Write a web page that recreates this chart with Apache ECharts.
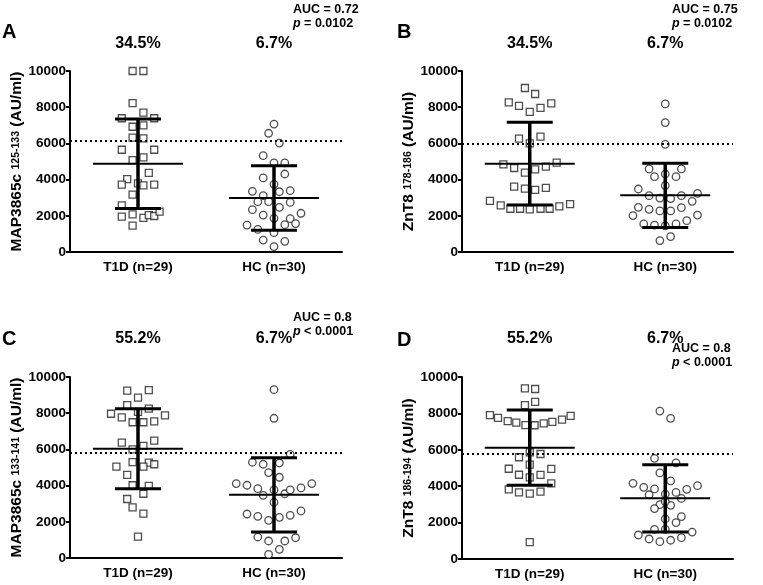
<!DOCTYPE html>
<html>
<head>
<meta charset="utf-8">
<script src="https://cdn.jsdelivr.net/npm/echarts@6/dist/echarts.min.js"></script>
<style>
html,body{margin:0;padding:0;background:#fff;}
#chart{width:763px;height:585px;}
</style>
</head>
<body>
<div id="chart"></div>
<script>
// groups on the x axis
var groups = ['T1D (n=29)', 'HC (n=30)'];

// percent above cut-off, per panel
var pctA = ['34.5%', '6.7%'];
var pctB = ['34.5%', '6.7%'];
var pctC = ['55.2%', '6.7%'];
var pctD = ['55.2%', '6.7%'];

var yTitles = [
	['MAP3865c', '125-133'],
	['ZnT8', '178-186'],
	['MAP3865c', '133-141'],
	['ZnT8', '186-194']
];
var panelLetters = ['A', 'B', 'C', 'D'];
var aucLines = ['AUC = 0.72', 'AUC = 0.75', 'AUC = 0.8', 'AUC = 0.8'];
var pLines = ['= 0.0102', '= 0.0102', '< 0.0001', '< 0.0001'];
var cutoffs = [6150, 6000, 5840, 5800];

// mean and SD per group [T1D, HC]
var meanA = [4880, 2985], sdA = [2470, 1785];
var meanB = [4880, 3130], sdB = [2285, 1770];
var meanC = [6040, 3490], sdC = [2210, 2053];
var meanD = [6118, 3333], sdD = [2069, 1850];

// AU/ml values, with swarm offsets (in symbol steps)
var aT1D = [10000, 10000, 8230, 7700, 7390, 7390, 6920, 7000, 6320, 6280, 5650, 5650, 5080, 5230, 4370, 4030, 3720, 3790, 3680, 3720, 3170, 2580, 2080, 1950, 1880, 2040, 1990, 2230, 1460];
var aT1DJit = [-1, 1, -1, 1, -3, 3, -1, 1, -1, 1, -3, 3, -1, 1, 2, -2, -3, 0, 1, 3, -1, -3, -1, -3, 1, 2, 3, 4, -1];
var aHC = [7070, 6560, 6020, 5320, 4920, 4920, 4090, 4310, 3740, 3350, 3110, 3330, 3390, 2780, 2780, 2740, 2470, 2340, 2040, 2140, 1860, 1840, 1510, 1570, 1490, 1250, 1070, 660, 590, 300];
var aHCJit = [0, -1, 1, -2, 0, 2, -2, 2, 0, -4, -2, 1, 3, -3, -1, 3, 1, -4, -2, 5, 0, 3, 2, 4, -5, -3, 0, -2, 2, 0];

var bT1D = [9060, 8730, 8270, 8070, 8210, 7960, 7740, 6260, 6370, 6000, 4840, 4640, 4380, 4570, 4720, 4940, 3610, 3500, 3430, 3540, 2820, 2580, 2390, 2390, 2360, 2390, 2390, 2520, 2650];
var bT1DJit = [-0.9, 1, -3.9, -2, 4, 2, 0, -2, 2, 0, -4.9, -2.9, -0.9, 1, 3, 5, -2.9, -0.9, 1, 3, -7.4, -5.4, -3.6, -1.8, 0, 2, 3.7, 5.5, 7.5];
var bHC = [8180, 7150, 5950, 4590, 4590, 4160, 4310, 4160, 3670, 3480, 3110, 2980, 2950, 3110, 3240, 2800, 2470, 2360, 2270, 2270, 2450, 2010, 2040, 1550, 1490, 1440, 1550, 1730, 630, 850];
var bHCJit = [0, 0, 0, -3, 3, -2, 0, 2, 0, -5, -3, -1, 1, 3, 6, 5, -5, -3, -1, 1, 3, -6, 6, -4, -2, 0, 2, 4, -1, 1];

var cT1D = [9250, 9280, 8860, 8450, 8250, 7970, 7770, 8070, 7880, 7500, 7500, 7550, 6370, 6480, 6000, 6190, 5300, 5270, 5180, 5050, 5050, 4590, 4020, 3980, 3550, 3260, 2800, 2450, 1180];
var cT1DJit = [-2, 2, 0, -2, 2, -5, -3, 0, 5, -1, 1, 3, -3, 3, -1, 1, -1, 2, 3, -4, 1, -2, -1, 2, 1, -2, -1, 1, 0];
var cHC = [9300, 7720, 5730, 5290, 5180, 5250, 4720, 4460, 4110, 4020, 3830, 3460, 3760, 3550, 3760, 3870, 4110, 3080, 2430, 2300, 2080, 2250, 2360, 2600, 1160, 940, 940, 1120, 480, 200];
var cHCJit = [0, 0, 3, -4, -2, 1, -1, 1, -7, -5, -3, -2, 0, 2, 3, 5, 7, 0, -5, -3, -1, 1, 3, 5, -3, -1, 2, 4, 1, -1];

var dT1D = [9380, 9340, 8460, 8630, 7910, 7750, 7580, 7490, 7360, 7350, 7450, 7530, 7660, 7860, 5860, 5770, 5590, 5180, 4960, 4950, 4630, 4490, 4620, 4160, 3830, 3660, 3590, 3700, 930];
var dT1DJit = [-0.9, 1, -0.9, 1, -7.4, -5.9, -4.1, -2.5, -0.8, 0.9, 2.6, 4.2, 6, 7.6, 0, 2, -2, 0, -3.9, 4, -2, 0, 2, 4, -3.9, -2, 0, 2, 0];
var dHC = [8130, 7730, 5530, 5280, 4730, 4290, 4160, 3940, 3850, 3530, 3570, 3660, 3830, 4030, 3330, 2990, 2950, 2770, 2200, 2330, 2000, 1630, 1630, 1320, 1100, 950, 1030, 1170, 1480, 3150];
var dHCJit = [-1, 1, -2, 2, -1, 1, -6, -4, -2, -3, 0, 2, 4, 6, 3, -1, 1, -2, 0, 3, 2, -2, 0, -5, -3, -1, 1, 3, 5, 0];

var FONT = '"Liberation Sans", Arial, sans-serif';
var JIT = 0.0397; // one symbol step, in group units

// panel layout: grid box, letter / auc text positions, percent row gap
var layout = [
	{left: 70, top: 71, width: 272, height: 181, letter: [2, 33], auc: [293, 10], pctGap: 19},
	{left: 462, top: 71, width: 271, height: 181, letter: [397, 33], auc: [672, 10], pctGap: 19},
	{left: 70, top: 377, width: 272, height: 181, letter: [2, 340], auc: [293, 318], pctGap: 30},
	{left: 462, top: 377, width: 271, height: 182, letter: [397, 341], auc: [672, 349], pctGap: 30}
];

var panels = [
	{pct: pctA, mean: meanA, sd: sdA, pts: [[aT1D, aT1DJit], [aHC, aHCJit]]},
	{pct: pctB, mean: meanB, sd: sdB, pts: [[bT1D, bT1DJit], [bHC, bHCJit]]},
	{pct: pctC, mean: meanC, sd: sdC, pts: [[cT1D, cT1DJit], [cHC, cHCJit]]},
	{pct: pctD, mean: meanD, sd: sdD, pts: [[dT1D, dT1DJit], [dHC, dHCJit]]}
];

function renderErrBar(params, api) {
	var x = api.value(0), m = api.value(1), s = api.value(2);
	var c = api.coord([x, m]);
	var hi = api.coord([x, m + s]);
	var lo = api.coord([x, m - s]);
	var st = function (w) { return {stroke: '#000', lineWidth: w}; };
	return {
		type: 'group',
		children: [
			{type: 'line', shape: {x1: c[0] - 45, y1: c[1], x2: c[0] + 45, y2: c[1]}, style: st(2)},
			{type: 'line', shape: {x1: c[0], y1: hi[1], x2: c[0], y2: lo[1]}, style: st(3.5)},
			{type: 'line', shape: {x1: c[0] - 23, y1: hi[1], x2: c[0] + 23, y2: hi[1]}, style: st(3)},
			{type: 'line', shape: {x1: c[0] - 23, y1: lo[1], x2: c[0] + 23, y2: lo[1]}, style: st(3)}
		]
	};
}

var grids = [], xAxes = [], yAxes = [], series = [], graphics = [];

for (var i = 0; i < panels.length; i++) {
	var p = panels[i], L = layout[i];
	grids.push({left: L.left, top: L.top, width: L.width, height: L.height});
	// visible group axis
	xAxes.push({
		gridIndex: i, type: 'category', data: groups, boundaryGap: true,
		axisLine: {lineStyle: {color: '#000', width: 2}},
		axisTick: {alignWithLabel: true, length: 5, lineStyle: {width: 2, color: '#000'}},
		axisLabel: {color: '#000', fontWeight: 'bold', fontSize: 13.5, fontFamily: FONT, margin: 8}
	});
	// percent row above
	xAxes.push({
		gridIndex: i, type: 'category', data: p.pct, position: 'top', boundaryGap: true,
		axisLine: {show: false}, axisTick: {show: false},
		axisLabel: {color: '#000', fontWeight: 'bold', fontSize: 16, fontFamily: FONT, margin: L.pctGap}
	});
	// hidden numeric axis for the swarm
	xAxes.push({gridIndex: i, type: 'value', min: -0.5, max: 1.5, show: false});
	yAxes.push({
		gridIndex: i, type: 'value', min: 0, max: 10000, interval: 2000,
		name: '{b|' + yTitles[i][0] + ' }{s|' + yTitles[i][1] + '}{b| (AU/ml)}',
		nameLocation: 'middle', nameGap: 41,
		nameTextStyle: {
			rich: {
				b: {fontWeight: 'bold', fontSize: 15.5, fontFamily: FONT, color: '#000'},
				s: {fontWeight: 'bold', fontSize: 10.5, fontFamily: FONT, color: '#000'}
			}
		},
		splitLine: {show: false},
		axisLine: {show: true, onZero: false, lineStyle: {color: '#000', width: 2}},
		axisTick: {show: true, length: 4, lineStyle: {width: 2, color: '#000'}},
		axisLabel: {
			color: '#000', fontWeight: 'bold', fontSize: 13.5, fontFamily: FONT, margin: 4,
			formatter: function (v) { return String(v); }
		}
	});

	for (var g = 0; g < 2; g++) {
		var vals = p.pts[g][0], jit = p.pts[g][1];
		var d = [];
		for (var k = 0; k < vals.length; k++) d.push([g + jit[k] * JIT, vals[k]]);
		series.push({
			type: 'scatter', xAxisIndex: i * 3 + 2, yAxisIndex: i,
			symbol: g === 0 ? 'rect' : 'circle', symbolSize: g === 0 ? 7 : 7.5,
			itemStyle: {color: '#fff', borderColor: '#222', borderWidth: 1.3},
			data: d, z: 3, silent: true
		});
	}
	var eb = [];
	for (var g2 = 0; g2 < 2; g2++) eb.push([g2, p.mean[g2], p.sd[g2]]);
	series.push({
		type: 'custom', xAxisIndex: i * 3 + 2, yAxisIndex: i,
		renderItem: renderErrBar, encode: {x: 0, y: 1}, data: eb, z: 4, silent: true,
		markLine: {
			silent: true, symbol: 'none', label: {show: false},
			lineStyle: {color: '#000', type: [2, 3], width: 2},
			data: [{yAxis: cutoffs[i]}]
		}
	});

	graphics.push({
		type: 'text', left: L.letter[0], top: L.letter[1] - 11,
		style: {text: panelLetters[i], font: 'bold 20px ' + FONT, fill: '#000'}
	});
	graphics.push({
		type: 'text', left: L.auc[0], top: L.auc[1] - 7,
		style: {
			text: aucLines[i] + '\n{i|p} ' + pLines[i], font: 'bold 12.5px ' + FONT, fill: '#000',
			lineHeight: 13.5,
			rich: {i: {fontStyle: 'italic', fontWeight: 'bold', fontSize: 12.5, fontFamily: FONT}}
		}
	});
}

var myChart = echarts.init(document.getElementById('chart'));
myChart.setOption({
	animation: false,
	backgroundColor: '#fff',
	grid: grids,
	xAxis: xAxes,
	yAxis: yAxes,
	series: series,
	graphic: graphics
});
</script>
</body>
</html>
